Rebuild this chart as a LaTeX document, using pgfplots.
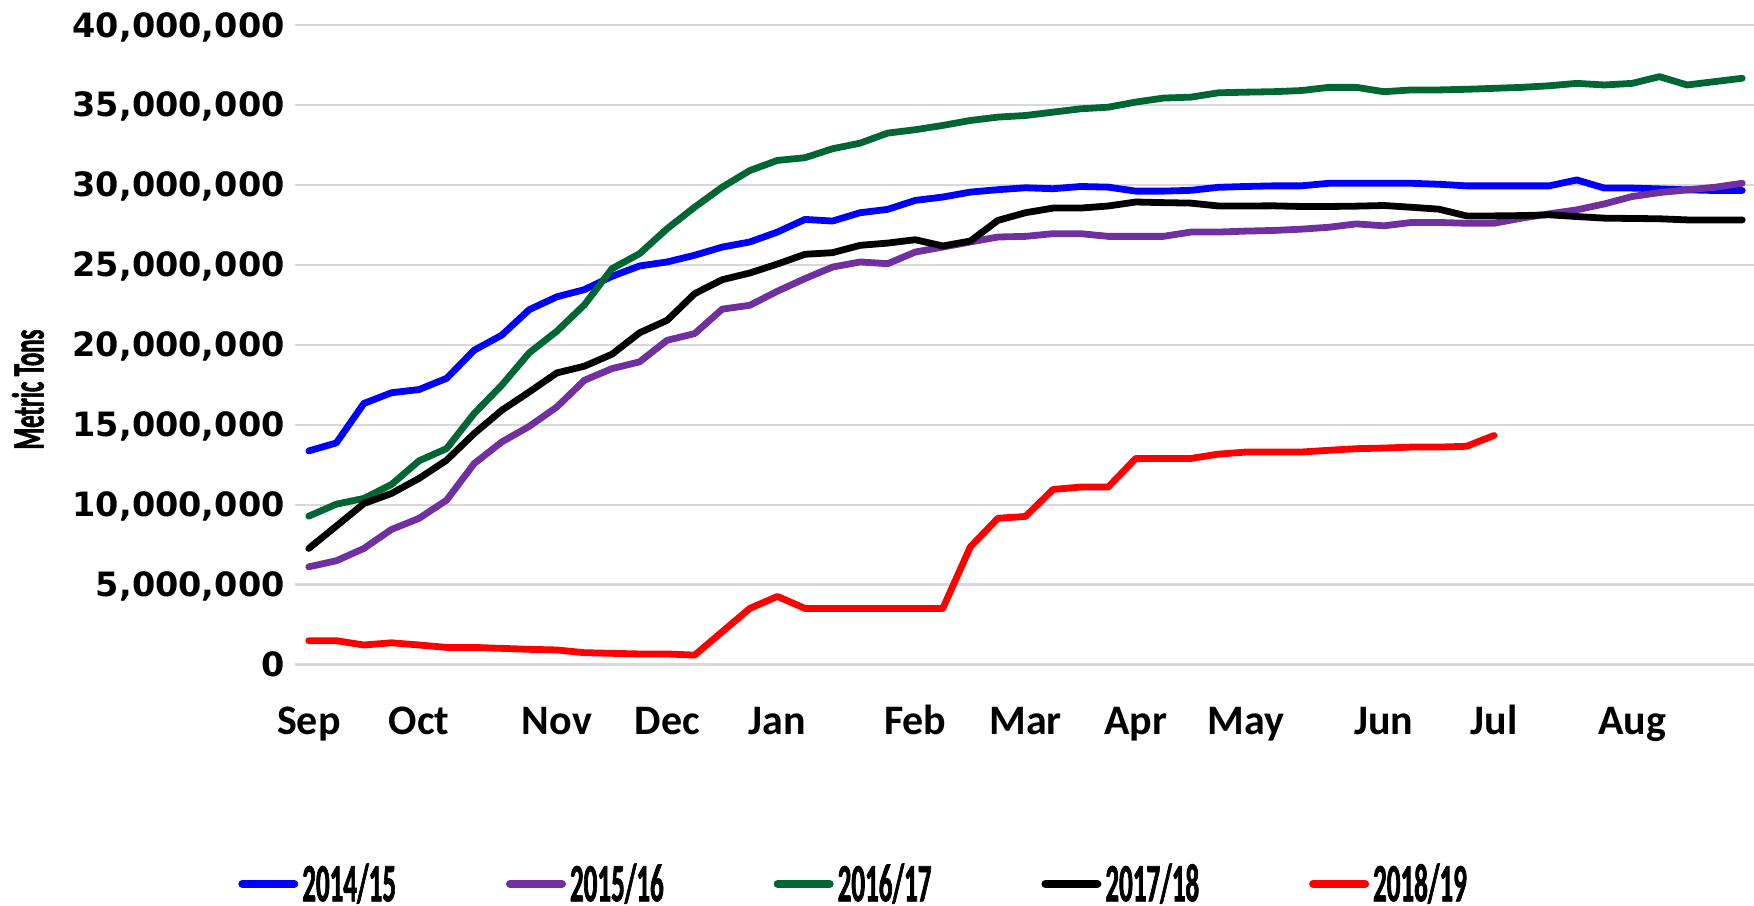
\documentclass[border=0pt]{standalone}
\usepackage{fontspec}
\setmainfont{Carlito}
\newfontfamily\dejavu{DejaVu Sans}
\newfontfamily\narrowfont[FakeStretch=0.55,FakeBold=1.3]{Carlito}
\newfontfamily\legfont[FakeStretch=0.5,FakeBold=1.2]{Carlito}
\usepackage{pgfplots}
\usepackage{pgfplotstable}
\pgfplotsset{compat=1.18}
\definecolor{cblue}{HTML}{0000FF}
\definecolor{cpurple}{HTML}{7030A0}
\definecolor{cgreen}{HTML}{006633}
\definecolor{cblack}{HTML}{000000}
\definecolor{cred}{HTML}{FF0000}
\definecolor{gridc}{HTML}{D9D9D9}

% values in million metric tons, weekly (week 0 = first week of Sep)
\pgfplotstableread{
i  b      p      g      k
0  13.36  6.11   9.28   7.26
1  13.86  6.49   10.03  8.66
2  16.33  7.26   10.39  10.07
3  17.00  8.45   11.26  10.70
4  17.20  9.14   12.74  11.64
5  17.90  10.28  13.51  12.78
6  19.66  12.57  15.70  14.45
7  20.60  13.92  17.47  15.90
8  22.20  14.90  19.50  17.05
9  23.00  16.11  20.85  18.24
10 23.45  17.78  22.50  18.66
11 24.28  18.51  24.76  19.41
12 24.93  18.93  25.70  20.75
13 25.18  20.28  27.26  21.53
14 25.60  20.70  28.61  23.20
15 26.11  22.23  29.86  24.07
16 26.43  22.47  30.90  24.49
17 27.05  23.35  31.53  25.05
18 27.84  24.14  31.70  25.66
19 27.74  24.86  32.26  25.76
20 28.26  25.18  32.61  26.22
21 28.47  25.07  33.24  26.36
22 29.03  25.80  33.45  26.57
23 29.24  26.11  33.72  26.18
24 29.55  26.43  34.03  26.49
25 29.70  26.74  34.24  27.78
26 29.82  26.78  34.34  28.26
27 29.76  26.95  34.55  28.55
28 29.90  26.95  34.76  28.55
29 29.86  26.78  34.86  28.68
30 29.61  26.78  35.18  28.93
31 29.61  26.78  35.43  28.89
32 29.66  27.05  35.49  28.86
33 29.85  27.05  35.76  28.68
34 29.90  27.11  35.80  28.68
35 29.94  27.15  35.83  28.69
36 29.94  27.23  35.90  28.65
37 30.10  27.35  36.10  28.65
38 30.10  27.56  36.10  28.67
39 30.10  27.44  35.83  28.71
40 30.10  27.65  35.94  28.60
41 30.04  27.65  35.94  28.48
42 29.94  27.60  35.98  28.06
43 29.94  27.60  36.04  28.06
44 29.94  27.92  36.10  28.08
45 29.94  28.19  36.20  28.13
46 30.31  28.44  36.35  28.02
47 29.80  28.81  36.25  27.92
48 29.80  29.27  36.35  27.90
49 29.75  29.52  36.77  27.88
50 29.69  29.69  36.25  27.81
51 29.65  29.85  36.46  27.81
52 29.65  30.10  36.67  27.81
}\mainseries

\pgfplotstableread{
i  r
0  1.49
1  1.49
2  1.22
3  1.36
4  1.22
5  1.07
6  1.07
7  1.01
8  0.95
9  0.91
10 0.74
11 0.70
12 0.66
13 0.66
14 0.59
15 2.05
16 3.51
17 4.26
18 3.51
19 3.51
20 3.51
21 3.51
22 3.51
23 3.51
24 7.36
25 9.15
26 9.26
27 10.95
28 11.10
29 11.10
30 12.89
31 12.89
32 12.89
33 13.16
34 13.29
35 13.29
36 13.29
37 13.40
38 13.50
39 13.54
40 13.60
41 13.60
42 13.65
43 14.33
}\redseries

\begin{document}
\begin{tikzpicture}
\useasboundingbox (0,0) rectangle (877pt,-452.5pt);
\begin{axis}[
  at={(147.5pt,-332.25pt)}, anchor=south west,
  scale only axis, width=730.5pt, height=319.75pt,
  xmin=-0.5, xmax=52.5, ymin=0, ymax=40,
  axis line style={draw=none},
  major tick length=0pt,
  ymajorgrids, grid style={gridc, line width=1.1pt},
  ytick={0,5,10,15,20,25,30,35,40},
  yticklabels={0,{5,000,000},{10,000,000},{15,000,000},{20,000,000},{25,000,000},{30,000,000},{35,000,000},{40,000,000}},
  yticklabel style={font=\dejavu\bfseries\fontsize{16.75}{18}\selectfont, anchor=base east, inner sep=0pt, xshift=-5pt, yshift=-6pt},
  xtick={0,4,9,13,17,22,26,30,34,39,43,48},
  xticklabels={Sep,Oct,Nov,Dec,Jan,Feb,Mar,Apr,May,Jun,Jul,Aug},
  xticklabel style={font=\bfseries\fontsize{21}{24}\selectfont, anchor=base, inner sep=0pt, yshift=-34.75pt},
  ylabel={\narrowfont\bfseries\fontsize{22.5}{24}\selectfont Metric Tons},
  every axis y label/.style={at={(axis description cs:-0.1828,0.43)}, rotate=90, anchor=center},
  legend columns=5,
  legend style={at={(axis description cs:0.383,-0.343)}, anchor=center, draw=none, fill=none,
    font=\legfont\bfseries\fontsize{27}{29}\selectfont, inner sep=0pt,
    /tikz/every even column/.append style={column sep=53pt}},
  legend image code/.code={\draw[#1, line width=4pt, line cap=round] (0pt,0pt) -- (26pt,0pt);},
  every axis plot/.append style={line width=3.4pt, line join=round, line cap=round, mark=none},
  clip=false,
]
\addplot[cblue] table[x=i, y=b] {\mainseries};
\addlegendentry{2014/15}
\addplot[cpurple] table[x=i, y=p] {\mainseries};
\addlegendentry{2015/16}
\addplot[cgreen] table[x=i, y=g] {\mainseries};
\addlegendentry{2016/17}
\addplot[cblack] table[x=i, y=k] {\mainseries};
\addlegendentry{2017/18}
\addplot[cred] table[x=i, y=r] {\redseries};
\addlegendentry{2018/19}
\end{axis}
\end{tikzpicture}
\end{document}
